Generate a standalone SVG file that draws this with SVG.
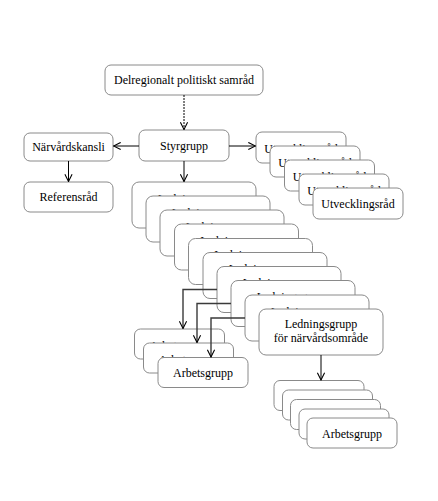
<svg xmlns="http://www.w3.org/2000/svg" width="438" height="501" viewBox="0 0 438 501">
<style>
.b{fill:#fff;stroke:#8a8a8a;stroke-width:1}
.t{font-family:"Liberation Serif","Times New Roman",serif;font-size:12px;fill:#000;text-anchor:middle}
.c{fill:none;stroke:#000;stroke-width:1}
.e{fill:none;stroke:#3a3a3a;stroke-width:1.4}
</style>
<defs>
<marker id="arr" viewBox="0 0 10 10" refX="9" refY="5" markerWidth="9" markerHeight="9" orient="auto" markerUnits="userSpaceOnUse">
<path d="M1,1 L9,5 L1,9" fill="none" stroke="#000" stroke-width="1.2"/>
</marker>
</defs>
<rect width="438" height="501" fill="#fff"/>
<g id="delregionalt"><rect class="b" x="105" y="65" width="158" height="30" rx="6"/><text class="t" x="184" y="84">Delregionalt politiskt samråd</text></g>
<g id="styrgrupp"><rect class="b" x="139" y="130" width="90" height="31" rx="6"/><text class="t" x="184" y="150">Styrgrupp</text></g>
<g id="narvardskansli"><rect class="b" x="24" y="133" width="89" height="28" rx="6"/><text class="t" x="68.5" y="151">Närvårdskansli</text></g>
<g id="referensrad"><rect class="b" x="24" y="182" width="89" height="30" rx="6"/><text class="t" x="68.5" y="201">Referensråd</text></g>
<g id="utveckling1"><rect class="b" x="256" y="132" width="90" height="31" rx="6"/><text class="t" x="301" y="152.5">Utvecklingsråd</text></g>
<g id="utveckling2"><rect class="b" x="270" y="146" width="90" height="31" rx="6"/><text class="t" x="315" y="166.5">Utvecklingsråd</text></g>
<g id="utveckling3"><rect class="b" x="284.5" y="160" width="90" height="31" rx="6"/><text class="t" x="329.5" y="180.5">Utvecklingsråd</text></g>
<g id="utveckling4"><rect class="b" x="299" y="174" width="90" height="31" rx="6"/><text class="t" x="344" y="194.5">Utvecklingsråd</text></g>
<g id="utveckling5"><rect class="b" x="313" y="188" width="90" height="31" rx="6"/><text class="t" x="358" y="207.5">Utvecklingsråd</text></g>
<g id="ledning1"><rect class="b" x="132" y="182" width="124" height="46" rx="7"/><text class="t" x="194" y="202.5">Ledningsgrupp</text></g>
<g id="ledning2"><rect class="b" x="146" y="196" width="124" height="46" rx="7"/><text class="t" x="208" y="216.5">Ledningsgrupp</text></g>
<g id="ledning3"><rect class="b" x="160" y="210" width="124" height="46" rx="7"/><text class="t" x="222" y="230.5">Ledningsgrupp</text></g>
<g id="ledning4"><rect class="b" x="174.5" y="224" width="124" height="46" rx="7"/><text class="t" x="236.5" y="244.5">Ledningsgrupp</text></g>
<g id="ledning5"><rect class="b" x="188.5" y="238.5" width="124" height="46" rx="7"/><text class="t" x="250.5" y="259">Ledningsgrupp</text></g>
<g id="ledning6"><rect class="b" x="203" y="252.5" width="124" height="46" rx="7"/><text class="t" x="265" y="273">Ledningsgrupp</text></g>
<g id="ledning7"><rect class="b" x="217" y="266.5" width="124" height="46" rx="7"/><text class="t" x="279" y="287">Ledningsgrupp</text></g>
<g id="ledning8"><rect class="b" x="231" y="280.5" width="124" height="46" rx="7"/><text class="t" x="293" y="301">Ledningsgrupp</text></g>
<g id="ledning9"><rect class="b" x="245" y="295" width="124" height="46" rx="7"/><text class="t" x="307" y="315.5">Ledningsgrupp</text></g>
<g id="ledning10"><rect class="b" x="259" y="309" width="124" height="46" rx="7"/><text class="t" x="321" y="328">Ledningsgrupp</text><text class="t" x="321" y="342">för närvårdsområde</text></g>
<g id="arbetsA1"><rect class="b" x="134.5" y="329" width="90" height="30" rx="6"/><text class="t" x="179.5" y="350">Arbetsgrupp</text></g>
<g id="arbetsA2"><rect class="b" x="143.5" y="343" width="90" height="30" rx="6"/><text class="t" x="188.5" y="364">Arbetsgrupp</text></g>
<g id="arbetsA3"><rect class="b" x="158" y="357.5" width="90" height="30" rx="6"/><text class="t" x="203" y="377">Arbetsgrupp</text></g>
<g id="arbetsB1"><rect class="b" x="274" y="380.5" width="90" height="30" rx="6"/></g>
<g id="arbetsB2"><rect class="b" x="282.5" y="390" width="90" height="30" rx="6"/></g>
<g id="arbetsB3"><rect class="b" x="290.5" y="399.5" width="90" height="30" rx="6"/></g>
<g id="arbetsB4"><rect class="b" x="299" y="409" width="90" height="30" rx="6"/></g>
<g id="arbetsB5"><rect class="b" x="307" y="418" width="90" height="30" rx="6"/><text class="t" x="352" y="437.5">Arbetsgrupp</text></g>
<g id="connectors">
<path class="c" d="M184,95 V129.5" stroke-dasharray="2,1" marker-end="url(#arr)"/>
<path class="c" d="M139,146 H113.5" marker-end="url(#arr)"/>
<path class="c" d="M229,146 H255.5" marker-end="url(#arr)"/>
<path class="c" d="M68.5,161 V181.5" marker-end="url(#arr)"/>
<path class="c" d="M184,161 V181.5" marker-end="url(#arr)"/>
<path class="c" d="M321,355 V380" marker-end="url(#arr)"/>
<path class="e" d="M217,289.5 H183 V328.5" marker-end="url(#arr)"/>
<path class="e" d="M231,303.5 H197 V342.5" marker-end="url(#arr)"/>
<path class="e" d="M245,318 H211 V357" marker-end="url(#arr)"/>
</g>
</svg>
